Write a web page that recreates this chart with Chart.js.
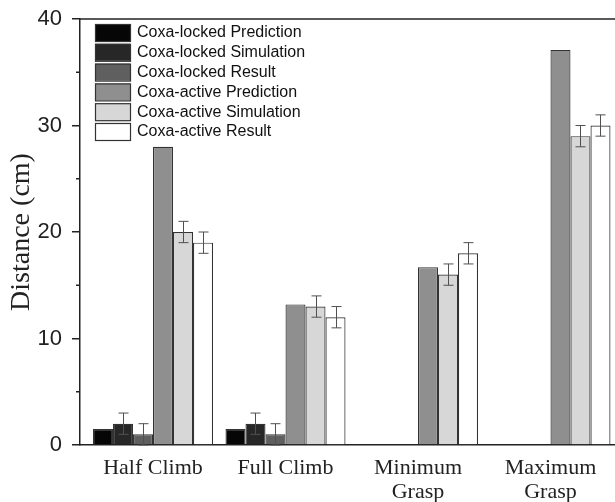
<!DOCTYPE html>
<html>
<head>
<meta charset="utf-8">
<script src="https://cdn.jsdelivr.net/npm/chart.js@4"></script>
<style>
  html, body { margin: 0; padding: 0; background: #fff; overflow: hidden; }
  #wrap { width: 615px; height: 502px; position: relative; }
</style>
</head>
<body>
<div id="wrap"><canvas id="myChart"></canvas></div>
<script>
const categories = [["Half Climb"], ["Full Climb"], ["Minimum", "Grasp"], ["Maximum", "Grasp"]];
const seriesNames = [
  "Coxa-locked Prediction", "Coxa-locked Simulation", "Coxa-locked Result",
  "Coxa-active Prediction", "Coxa-active Simulation", "Coxa-active Result"
];
const lockedPrediction = [1.5, 1.5, null, null];
const lockedSimulation = [2, 2, null, null];
const lockedResult = [1, 1, null, null];
const activePrediction = [28, 13.2, 16.7, 37.1];
const activeSimulation = [20, 13, 16, 29];
const activeResult = [19, 12, 18, 30];

const lockedSimulationErr = [1, 1, null, null];
const lockedResultErr = [1, 1, null, null];
const activeSimulationErr = [1, 1, 1, 1];
const activeResultErr = [1, 1, 1, 1];

const yTicks = [0, 10, 20, 30, 40];
const yMinorTicks = [5, 15, 25, 35];

const colors = ["#060606", "#272727", "#5f5f5f", "#8f8f8f", "#d7d7d7", "#ffffff"];
const allValues = [lockedPrediction, lockedSimulation, lockedResult, activePrediction, activeSimulation, activeResult];
const allErrors = [null, lockedSimulationErr, lockedResultErr, null, activeSimulationErr, activeResultErr];

const ctx = document.getElementById("myChart").getContext("2d");

function toPoints(arr) {
  return arr.map((v, i) => ({ x: i + 1, y: v }));
}

const datasets = allValues.map((vals, k) => ({
  label: seriesNames[k],
  data: toPoints(vals),
  backgroundColor: colors[k],
  borderColor: "#333333",
  borderWidth: 1.2,
  borderSkipped: "bottom",
  categoryPercentage: 0.906,
  barPercentage: 1.0,
}));

// error bars, minor ticks, top frame line and in-plot legend
const extras = {
  id: "extras",
  afterDatasetsDraw(chart) {
    const c = chart.ctx;
    const y = chart.scales.y;
    c.save();
    c.strokeStyle = "#505050";
    c.lineWidth = 1;
    allErrors.forEach((errs, k) => {
      if (!errs) return;
      const meta = chart.getDatasetMeta(k);
      errs.forEach((e, i) => {
        if (e == null || allValues[k][i] == null) return;
        const bar = meta.data[i];
        const x = Math.round(bar.x) + 0.5;
        const top = y.getPixelForValue(allValues[k][i] + e);
        const bot = y.getPixelForValue(allValues[k][i] - e);
        c.beginPath();
        c.moveTo(x, top); c.lineTo(x, bot);
        c.moveTo(x - 5, top); c.lineTo(x + 5, top);
        c.moveTo(x - 5, bot); c.lineTo(x + 5, bot);
        c.stroke();
      });
    });
    c.restore();
  },
  afterDraw(chart) {
    const c = chart.ctx;
    const area = chart.chartArea;
    const y = chart.scales.y;
    c.save();
    c.strokeStyle = "#222";
    c.lineWidth = 1.5;
    // minor ticks
    yMinorTicks.forEach(v => {
      const py = y.getPixelForValue(v);
      c.beginPath();
      c.moveTo(area.left - 4, py); c.lineTo(area.left, py);
      c.stroke();
    });
    // top frame line
    c.beginPath();
    c.moveTo(area.left, area.top); c.lineTo(chart.width, area.top);
    c.stroke();

    // legend
    const lx = area.left + 15;
    let ly = area.top + 5;
    c.font = "16px 'Liberation Sans', Arial, sans-serif";
    c.textBaseline = "middle";
    chart.data.datasets.forEach(ds => {
      c.fillStyle = ds.backgroundColor;
      c.fillRect(lx, ly, 35, 17);
      c.strokeStyle = "#333";
      c.lineWidth = 1.2;
      c.strokeRect(lx + 0.5, ly + 0.5, 35, 17);
      c.fillStyle = "#111";
      c.fillText(ds.label, lx + 42, ly + 9);
      ly += 19.8;
    });
    c.restore();
  }
};

const config = {
  type: "bar",
  data: { datasets: datasets },
  options: {
    responsive: true,
    maintainAspectRatio: false,
    animation: false,
    layout: { padding: { left: 0, right: 0, top: 19, bottom: 0 } },
    plugins: {
      legend: { display: false },
      tooltip: { enabled: false },
    },
    scales: {
      x: {
        type: "linear",
        bounds: "data",
        offset: false,
        min: 0.449,
        max: 4.487,
        afterBuildTicks: s => { s.ticks = categories.map((c, i) => ({ value: i + 1 })); },
        afterFit: s => { s.height = 57; s.paddingLeft = 0; s.paddingRight = 0; },
        grid: { display: false, drawTicks: false },
        border: { display: true, color: "#222", width: 1.5 },
        ticks: {
          autoSkip: false,
          maxRotation: 0,
          padding: 11,
          color: "#222",
          font: { family: "'Liberation Serif', 'Times New Roman', serif", size: 22, lineHeight: 1.1 },
          callback: v => categories[Math.round(v) - 1] || "",
        },
      },
      y: {
        min: 0,
        max: 40,
        afterBuildTicks: s => { s.ticks = yTicks.map(v => ({ value: v })); },
        afterFit: s => { s.width = 80; s.paddingTop = 0; s.paddingBottom = 0; },
        grid: { drawOnChartArea: false, drawTicks: true, tickLength: 8, color: "#222", lineWidth: 1.5 },
        border: { display: true, color: "#222", width: 1.5 },
        ticks: {
          padding: 10,
          color: "#222",
          font: { family: "'Liberation Sans', Arial, sans-serif", size: 22 },
        },
        title: {
          display: true,
          text: "Distance (cm)",
          color: "#222",
          padding: { top: 5, bottom: 0 },
          font: { family: "'Liberation Serif', 'Times New Roman', serif", size: 28 },
        },
      },
    },
  },
  plugins: [extras],
};

const myChart = new Chart(ctx, config);
</script>
</body>
</html>
